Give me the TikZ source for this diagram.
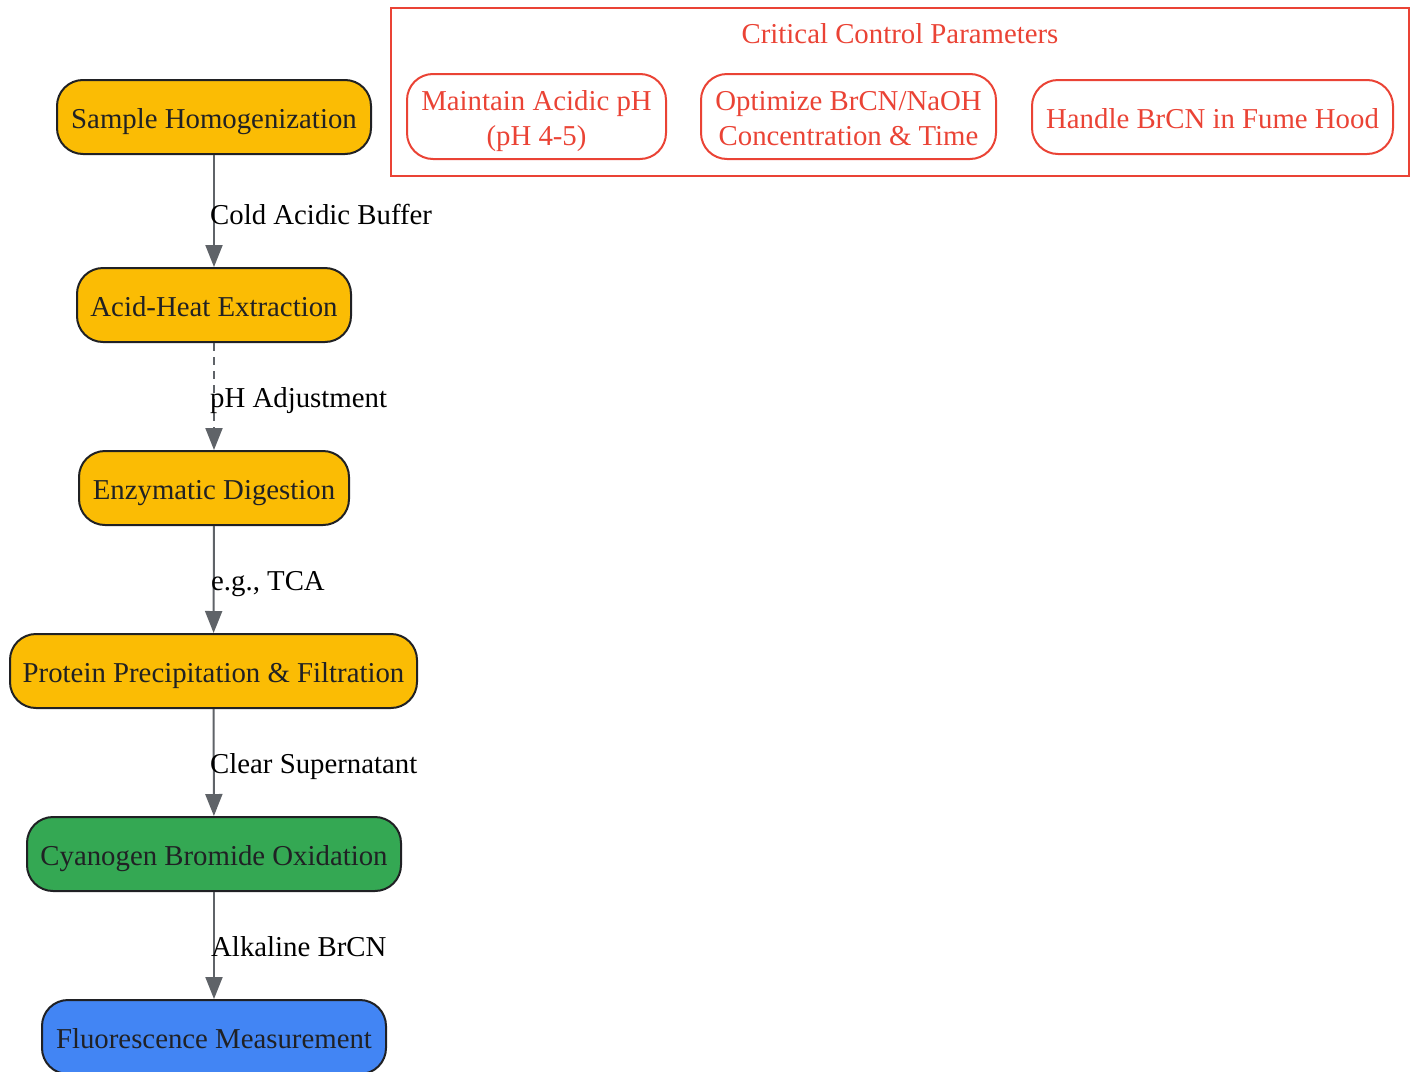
\documentclass[tikz,border=0pt]{standalone}
\usepackage{fontspec}
\setmainfont{Liberation Serif}
\usetikzlibrary{arrows.meta}
\definecolor{gyellow}{HTML}{FBBC04}
\definecolor{ggreen}{HTML}{34A853}
\definecolor{gblue}{HTML}{4285F4}
\definecolor{gred}{HTML}{EA4335}
\definecolor{gtext}{HTML}{202124}
\definecolor{gedge}{HTML}{5F6368}
\begin{document}
\begin{tikzpicture}[x=1pt,y=-1pt,
  every node/.style={font=\fontsize{28.8}{35}\selectfont},
  stepbox/.style={draw=gtext,line width=2pt,rounded corners=26pt,text=gtext,minimum height=74pt,inner sep=0pt,align=center,text height=22pt,text depth=0pt},
  parambox/.style={draw=gred,line width=2pt,rounded corners=26pt,text=gred,inner sep=0pt,align=center},
  paramtext/.style={text=gred,inner sep=0pt,align=center,text height=57pt,text depth=0pt},
  flow/.style={draw=gedge,line width=2pt,-{Triangle[length=22pt,width=17pt]}},
  elabel/.style={anchor=base west,inner sep=0pt,text=black}]
\useasboundingbox (0,0) rectangle (1415,1071);
% control box
\node[draw=gred,line width=2pt,minimum width=1018pt,minimum height=168pt,inner sep=0pt] (ctrl) at (900,92) {};
\node[text=gred,inner sep=0pt] (ctitle) at (900,34) {Critical Control Parameters};
\node[parambox,minimum width=259pt,minimum height=85pt] (p1) at (536.5,116.5) {};
\node[paramtext] (p1t) at (p1.center) {Maintain Acidic pH\\(pH 4-5)};
\node[parambox,minimum width=295pt,minimum height=85pt] (p2) at (848.5,116.5) {};
\node[paramtext] (p2t) at (p2.center) {Optimize BrCN/NaOH\\Concentration \& Time};
\node[parambox,minimum width=361pt,minimum height=74pt,text height=22pt,text depth=0pt] (p3) at (1212.5,117) {Handle BrCN in Fume Hood};
% flow nodes
\node[stepbox,fill=gyellow,minimum width=314pt] (s1) at (214,117) {Sample Homogenization};
\node[stepbox,fill=gyellow,minimum width=274pt] (s2) at (214,305) {Acid-Heat Extraction};
\node[stepbox,fill=gyellow,minimum width=270pt] (s3) at (214,488) {Enzymatic Digestion};
\node[stepbox,fill=gyellow,minimum width=407pt] (s4) at (213.5,671) {Protein Precipitation \& Filtration};
\node[stepbox,fill=ggreen,minimum width=374pt] (s5) at (214,854) {Cyanogen Bromide Oxidation};
\node[stepbox,fill=gblue,minimum width=344pt] (s6) at (214,1037) {Fluorescence Measurement};
% edges
\draw[flow] (s1) -- (s2);
\draw[flow,dash pattern=on 8pt off 6pt] (s2) -- (s3);
\draw[flow] (s3) -- (s4);
\draw[flow] (s4) -- (s5);
\draw[flow] (s5) -- (s6);
\node[elabel] (l1) at (210,224) {Cold Acidic Buffer};
\node[elabel] (l2) at (210,407) {pH Adjustment};
\node[elabel] (l3) at (211,590) {e.g., TCA};
\node[elabel] (l4) at (210,773) {Clear Supernatant};
\node[elabel] (l5) at (211,956) {Alkaline BrCN};
\end{tikzpicture}
\end{document}
